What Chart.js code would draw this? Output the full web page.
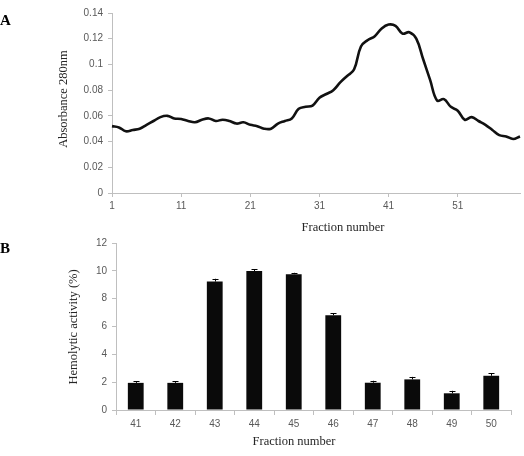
<!DOCTYPE html>
<html>
<head>
<meta charset="utf-8">
<script src="https://cdn.jsdelivr.net/npm/chart.js@4"></script>
<style>
  html, body { margin: 0; padding: 0; background: #fff; }
  #wrap { position: relative; width: 524px; height: 456px; overflow: hidden; }
  canvas { position: absolute; left: 0; }
  .txt { position: absolute; font-family: 'Liberation Serif', 'Times New Roman', serif; color: #262626; white-space: nowrap; font-weight: normal; }
  .panel { font-weight: bold; font-size: 15px; color: #000; }
  .ytitle { width: 140px; height: 14px; line-height: 14px; text-align: center; transform: rotate(-90deg); font-size: 12.5px; }
  .xtitle { width: 120px; height: 14px; line-height: 14px; text-align: center; font-size: 12.5px; }
</style>
</head>
<body>
<div id="wrap">
  <canvas id="chartA" width="524" height="232" style="top:0"></canvas>
  <canvas id="chartB" width="524" height="226" style="top:230px"></canvas>

  <div class="txt panel" style="left:0px; top:12px;">A</div>
  <div class="txt ytitle" style="left:-7px; top:92px;">Absorbance 280nm</div>
  <div class="txt xtitle" style="left:283px; top:220px;">Fraction number</div>

  <div class="txt panel" style="left:0px; top:240px;">B</div>
  <div class="txt ytitle" style="left:3px; top:320px;">Hemolytic activity (%)</div>
  <div class="txt xtitle" style="left:234px; top:434px;">Fraction number</div>
</div>
<script>
// ── Panel A: absorbance profile ──────────────────────────────────
const fractionsA = [
  1, 2, 3, 4, 5, 6, 7, 8, 9, 10, 11, 12, 13, 14, 15, 16, 17, 18, 19, 20,
  21, 22, 23, 24, 25, 26, 27, 28, 29, 30, 31, 32, 33, 34, 35, 36, 37, 38, 39, 40,
  41, 42, 43, 44, 45, 46, 47, 48, 49, 50, 51, 52, 53, 54, 55, 56, 57, 58, 59, 60
];
const absorbance = [
  0.052, 0.051, 0.048, 0.049, 0.050, 0.053, 0.056, 0.059, 0.060, 0.058,
  0.0575, 0.056, 0.055, 0.057, 0.058, 0.056, 0.057, 0.056, 0.054, 0.055,
  0.053, 0.052, 0.050, 0.050, 0.054, 0.056, 0.058, 0.0655, 0.067, 0.068,
  0.074, 0.077, 0.080, 0.086, 0.091, 0.096, 0.114, 0.119, 0.122, 0.128,
  0.131, 0.130, 0.124, 0.125, 0.120, 0.104, 0.088, 0.072, 0.073, 0.067,
  0.064, 0.057, 0.059, 0.056, 0.053, 0.049, 0.045, 0.044, 0.042, 0.044
];
const yTickLabelsA = ['0', '0.02', '0.04', '0.06', '0.08', '0.1', '0.12', '0.14'];

// ── Panel B: hemolytic activity ──────────────────────────────────
const fractionsB = ['41', '42', '43', '44', '45', '46', '47', '48', '49', '50'];
const hemolytic = [1.95, 1.95, 9.23, 9.99, 9.76, 6.81, 1.96, 2.2, 1.2, 2.46];
const hemolyticErr = [0.12, 0.12, 0.2, 0.14, 0.1, 0.16, 0.14, 0.18, 0.18, 0.17];

const axisGray = '#bfbfbf';
const tickFont = { family: 'Liberation Sans, Arial, sans-serif', size: 10 };
const tickColor = '#595959';

// plus-direction error bars, Excel style
const errorBars = {
  id: 'errorBars',
  afterDatasetsDraw(chart) {
    const meta = chart.getDatasetMeta(0);
    const y = chart.scales.y;
    const ctx = chart.ctx;
    ctx.save();
    ctx.strokeStyle = '#000';
    ctx.lineWidth = 1;
    meta.data.forEach((bar, i) => {
      const top = y.getPixelForValue(hemolytic[i] + hemolyticErr[i]);
      const base = y.getPixelForValue(hemolytic[i]);
      const x = Math.round(bar.x) + 0.5;
      ctx.beginPath();
      ctx.moveTo(x, base);
      ctx.lineTo(x, top);
      ctx.moveTo(x - 3, Math.round(top) + 0.5);
      ctx.lineTo(x + 3, Math.round(top) + 0.5);
      ctx.stroke();
    });
    ctx.restore();
  }
};

Chart.defaults.animation = false;

new Chart(document.getElementById('chartA'), {
  type: 'line',
  data: {
    labels: fractionsA,
    datasets: [{
      data: absorbance,
      borderColor: '#111',
      borderWidth: 2.6,
      tension: 0.4,
      pointRadius: 0,
      fill: false
    }]
  },
  options: {
    responsive: false,
    layout: { padding: { top: 13, right: 4, left: 0, bottom: 0 } },
    plugins: { legend: { display: false }, tooltip: { enabled: false } },
    scales: {
      x: {
        type: 'category',
        offset: false,
        afterFit: s => { s.height = 39; },
        border: { display: true, color: axisGray },
        grid: {
          drawOnChartArea: false, drawTicks: true, tickLength: 4,
          color: c => (c.index % 10 === 0 ? axisGray : 'rgba(0,0,0,0)')
        },
        ticks: {
          autoSkip: false, maxRotation: 0, padding: 3,
          font: tickFont, color: tickColor,
          callback: (v, i) => (i % 10 === 0 ? String(fractionsA[i]) : '')
        }
      },
      y: {
        min: 0, max: 0.14,
        afterFit: s => { s.width = 112; },
        border: { display: true, color: axisGray },
        grid: { drawOnChartArea: false, drawTicks: true, tickLength: 4, color: axisGray },
        ticks: {
          stepSize: 0.02, padding: 5,
          font: tickFont, color: tickColor,
          callback: (v, i) => yTickLabelsA[i]
        }
      }
    }
  }
});

new Chart(document.getElementById('chartB'), {
  type: 'bar',
  data: {
    labels: fractionsB,
    datasets: [{
      data: hemolytic,
      backgroundColor: '#0a0a0a',
      borderColor: '#000',
      borderWidth: 0,
      categoryPercentage: 1,
      barPercentage: 0.4
    }]
  },
  options: {
    responsive: false,
    layout: { padding: { top: 13, right: 13, left: 0, bottom: 0 } },
    plugins: { legend: { display: false }, tooltip: { enabled: false } },
    scales: {
      x: {
        afterFit: s => { s.height = 46; },
        border: { display: true, color: axisGray },
        grid: { drawOnChartArea: false, drawTicks: true, tickLength: 5, color: axisGray, offset: true },
        ticks: { padding: 3, font: tickFont, color: tickColor, maxRotation: 0 }
      },
      y: {
        min: 0, max: 12,
        afterFit: s => { s.width = 116; },
        border: { display: true, color: axisGray },
        grid: { drawOnChartArea: false, drawTicks: true, tickLength: 4, color: axisGray },
        ticks: { stepSize: 2, padding: 5, font: tickFont, color: tickColor }
      }
    }
  },
  plugins: [errorBars]
});
</script>
</body>
</html>
